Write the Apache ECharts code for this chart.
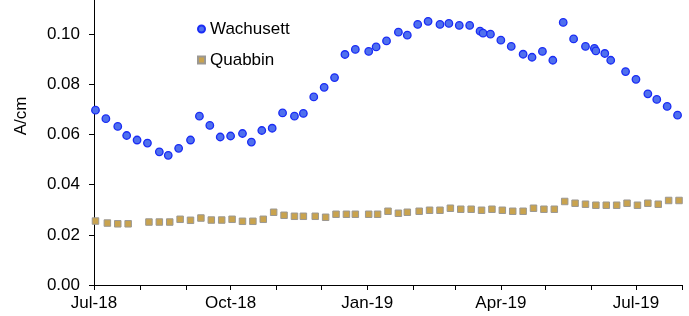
<!DOCTYPE html>
<html>
<head>
<meta charset="utf-8">
<title>Wachusett / Quabbin</title>
<script src="https://cdn.jsdelivr.net/npm/echarts@6/dist/echarts.min.js"></script>
<style>
  html, body { margin: 0; padding: 0; background: #fff; }
  #main { width: 689px; height: 316px; }
</style>
</head>
<body>
<div id="main"></div>
<script>
// Weekly UV254 absorbance (A/cm)
var wachDates = ['2018-07-02', '2018-07-09', '2018-07-17', '2018-07-23', '2018-07-30', '2018-08-06',
  '2018-08-14', '2018-08-20', '2018-08-27', '2018-09-04', '2018-09-10', '2018-09-17', '2018-09-24',
  '2018-10-01', '2018-10-09', '2018-10-15', '2018-10-22', '2018-10-29', '2018-11-05', '2018-11-13',
  '2018-11-19', '2018-11-26', '2018-12-03', '2018-12-10', '2018-12-17', '2018-12-24', '2019-01-02',
  '2019-01-07', '2019-01-14', '2019-01-22', '2019-01-28', '2019-02-04', '2019-02-11', '2019-02-19',
  '2019-02-25', '2019-03-04', '2019-03-11', '2019-03-18', '2019-03-20', '2019-03-25', '2019-04-01',
  '2019-04-08', '2019-04-16', '2019-04-22', '2019-04-29', '2019-05-06', '2019-05-13', '2019-05-20',
  '2019-05-28', '2019-06-03', '2019-06-04', '2019-06-10', '2019-06-14', '2019-06-24', '2019-07-01',
  '2019-07-09', '2019-07-15', '2019-07-22', '2019-07-29'];
var wachValues = [0.0697, 0.0663, 0.0632, 0.0596, 0.0578, 0.0566,
  0.0531, 0.0517, 0.0545, 0.0578, 0.0673, 0.0636, 0.0590,
  0.0594, 0.0604, 0.0570, 0.0616, 0.0625, 0.0686, 0.0673,
  0.0684, 0.0750, 0.0788, 0.0827, 0.0919, 0.0939, 0.0931,
  0.0949, 0.0973, 0.1008, 0.0996, 0.1039, 0.1051, 0.1039,
  0.1043, 0.1035, 0.1035, 0.1012, 0.1004, 0.1000, 0.0976,
  0.0951, 0.0920, 0.0908, 0.0931, 0.0896, 0.1047, 0.0981,
  0.0951, 0.0943, 0.0933, 0.0923, 0.0896, 0.0851, 0.0820,
  0.0762, 0.0740, 0.0712, 0.0677];

var quabDates = ['2018-07-02', '2018-07-10', '2018-07-17', '2018-07-24', '2018-08-07', '2018-08-14',
  '2018-08-21', '2018-08-28', '2018-09-04', '2018-09-11', '2018-09-18', '2018-09-25', '2018-10-02',
  '2018-10-09', '2018-10-16', '2018-10-23', '2018-10-30', '2018-11-06', '2018-11-13', '2018-11-19',
  '2018-11-27', '2018-12-04', '2018-12-11', '2018-12-18', '2018-12-24', '2019-01-02', '2019-01-08',
  '2019-01-15', '2019-01-22', '2019-01-28', '2019-02-05', '2019-02-12', '2019-02-19', '2019-02-26',
  '2019-03-05', '2019-03-12', '2019-03-19', '2019-03-26', '2019-04-02', '2019-04-09', '2019-04-16',
  '2019-04-23', '2019-04-30', '2019-05-07', '2019-05-14', '2019-05-21', '2019-05-28', '2019-06-04',
  '2019-06-11', '2019-06-18', '2019-06-25', '2019-07-02', '2019-07-09', '2019-07-16', '2019-07-23',
  '2019-07-30'];
var quabValues = [0.0255, 0.0247, 0.0244, 0.0244, 0.0251, 0.0251,
  0.0251, 0.0262, 0.0258, 0.0267, 0.0259, 0.0259, 0.0262,
  0.0254, 0.0254, 0.0262, 0.0290, 0.0278, 0.0274, 0.0274,
  0.0274, 0.0270, 0.0282, 0.0282, 0.0282, 0.0282, 0.0282,
  0.0294, 0.0286, 0.0290, 0.0294, 0.0298, 0.0298, 0.0306,
  0.0302, 0.0302, 0.0298, 0.0302, 0.0298, 0.0294, 0.0294,
  0.0306, 0.0302, 0.0302, 0.0333, 0.0326, 0.0322, 0.0318,
  0.0318, 0.0318, 0.0326, 0.0318, 0.0326, 0.0322, 0.0337,
  0.0337];

// axis ticks every month, labels every quarter
var tickMonths = ['2018-07-01', '2018-08-01', '2018-09-01', '2018-10-01', '2018-11-01', '2018-12-01',
  '2019-01-01', '2019-02-01', '2019-03-01', '2019-04-01', '2019-05-01', '2019-06-01', '2019-07-01',
  '2019-08-01'];
var labelMonths = ['2018-07-01', '2018-10-01', '2019-01-01', '2019-04-01', '2019-07-01'];
var monthNames = ['Jan', 'Feb', 'Mar', 'Apr', 'May', 'Jun', 'Jul', 'Aug', 'Sep', 'Oct', 'Nov', 'Dec'];

function toTime(s) {
  var p = s.split('-');
  return new Date(+p[0], +p[1] - 1, +p[2]).getTime();
}
function pairs(dates, vals) {
  var out = [];
  for (var i = 0; i < dates.length; i++) out.push([toTime(dates[i]), vals[i]]);
  return out;
}

var font = 'Liberation Sans, Arial, sans-serif';
var chart = echarts.init(document.getElementById('main'), null, { renderer: 'canvas' });

chart.setOption({
  animation: false,
  grid: { left: 94, right: 7, top: -16, bottom: 31, containLabel: false, outerBoundsMode: 'none' },
  legend: {
    orient: 'vertical',
    left: 197,
    top: 19,
    padding: 0,
    itemGap: 11,
    itemWidth: 7,
    itemHeight: 7,
    textStyle: { fontFamily: font, fontSize: 17, color: '#000', lineHeight: 20 },
    data: [{ name: 'Wachusett', icon: 'circle' }, { name: 'Quabbin', icon: 'rect' }]
  },
  graphic: [{
    type: 'text',
    x: 21, y: 116,
    rotation: Math.PI / 2,
    style: {
      text: 'A/cm', fontFamily: font, fontSize: 17, fill: '#000',
      textAlign: 'center', textVerticalAlign: 'middle'
    }
  }],
  xAxis: {
    // dates as timestamps on a value axis so ticks can sit on month starts
    type: 'value',
    min: toTime(tickMonths[0]),
    max: toTime(tickMonths[tickMonths.length - 1]),
    axisLine: { lineStyle: { color: '#000', width: 1 } },
    axisTick: { show: true, inside: false, length: 5, lineStyle: { color: '#000' },
      customValues: tickMonths.map(toTime) },
    axisLabel: {
      customValues: labelMonths.map(toTime),
      margin: 10,
      fontFamily: font, fontSize: 17, color: '#000',
      formatter: function (v) {
        var d = new Date(v);
        return monthNames[d.getMonth()] + '-' + String(d.getFullYear()).slice(2);
      }
    },
    splitLine: { show: false }
  },
  yAxis: {
    type: 'value',
    min: 0, max: 0.12, interval: 0.02,
    axisLine: { show: true, lineStyle: { color: '#000', width: 1 } },
    axisTick: { show: true, inside: false, length: 5, lineStyle: { color: '#000' } },
    axisLabel: {
      margin: 14, fontFamily: font, fontSize: 17, color: '#000',
      formatter: function (v) { return v.toFixed(2); }
    },
    splitLine: { show: false }
  },
  series: [{
    name: 'Wachusett',
    type: 'scatter',
    symbol: 'circle',
    symbolSize: 7.5,
    itemStyle: { color: '#4f70ee', borderColor: '#1a2cf5', borderWidth: 1.3, opacity: 1 },
    data: pairs(wachDates, wachValues)
  }, {
    name: 'Quabbin',
    type: 'scatter',
    symbol: 'rect',
    symbolSize: 6.5,
    itemStyle: { color: '#c9a34e', borderColor: '#9b9893', borderWidth: 1, opacity: 1 },
    data: pairs(quabDates, quabValues)
  }]
});
</script>
</body>
</html>
